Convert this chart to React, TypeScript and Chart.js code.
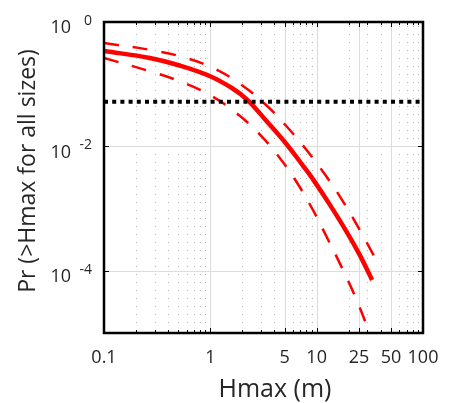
import React, { useEffect, useRef } from 'react';
import { Chart, registerables } from 'chart.js';

Chart.register(...registerables);

// Axis ticks
const xTickValues = [0.1, 1, 5, 10, 25, 50, 100];
const xMinorValues = [0.2, 0.3, 0.4, 0.5, 0.6, 0.7, 0.8, 0.9, 2, 3, 4, 6, 7, 8, 9, 20, 30, 40, 60, 70, 80, 90];
const yTickValues = [1, 1e-2, 1e-4];
const yTickExponents = ['0', '-2', '-4'];

// Central estimate (solid red)
const medianX = [0.1, 0.27, 0.5155, 0.985, 1.62, 2.24, 3.37, 5.19, 7.33, 9.14, 13.1, 18.9, 25.1, 33.2];
const medianY = [0.342, 0.2638, 0.1998, 0.1354, 0.0853, 0.0557, 0.0256, 0.01093, 0.00506, 0.003036, 0.001203, 4.395e-4, 1.869e-4, 7.14e-5];

// Upper bound (dashed red)
const upperX = [0.1, 0.282, 0.55, 1.0525, 1.882, 3.228, 5.28, 8.176, 12.3, 17.77, 25.66, 34.6];
const upperY = [0.4597, 0.3521, 0.2737, 0.1835, 0.1026, 0.0489, 0.0205, 0.008433, 0.003307, 0.001286, 4.413e-4, 1.736e-4];

// Lower bound (dashed red)
const lowerX = [0.1, 0.27, 0.515, 0.944, 1.69, 2.84, 4.46, 6.43, 9.27, 12.8, 17.4, 23.6, 30.0, 31.4];
const lowerY = [0.2638, 0.1612, 0.1117, 0.0701, 0.03627, 0.0163, 0.006653, 0.002727, 9.356e-4, 3.162e-4, 1.093e-4, 3.495e-5, 1.239e-5, 1.0e-5];

// Threshold (dotted black)
const thresholdX = [0.1, 100];
const thresholdY = [0.052, 0.052];

const xTitle = 'Hmax (m)';
const yTitle = 'Pr (>Hmax for all sizes)';

const FONT = '"Open Sans", "Noto Sans", sans-serif';
const TEXT = '#262626';

const toPts = (xs: number[], ys: number[]) => xs.map((x, i) => ({ x, y: ys[i] }));

const decor = {
  id: 'decor',
  beforeDatasetsDraw(chart: any) {
    const { ctx, chartArea: a, scales } = chart;
    const x = scales.x;
    const y = scales.y;
    ctx.save();
    ctx.lineWidth = 1;
    ctx.strokeStyle = '#b5b5b5';
    ctx.setLineDash([1, 7]);
    for (const v of xMinorValues) {
      const px = Math.round(x.getPixelForValue(v)) + 0.5;
      ctx.beginPath();
      ctx.moveTo(px, a.top + 4);
      ctx.lineTo(px, a.bottom);
      ctx.stroke();
    }
    ctx.setLineDash([]);
    ctx.strokeStyle = '#dcdcdc';
    for (const v of xTickValues) {
      const px = Math.round(x.getPixelForValue(v)) + 0.5;
      ctx.beginPath();
      ctx.moveTo(px, a.top);
      ctx.lineTo(px, a.bottom);
      ctx.stroke();
    }
    for (const v of yTickValues) {
      const py = Math.round(y.getPixelForValue(v)) + 0.5;
      ctx.beginPath();
      ctx.moveTo(a.left, py);
      ctx.lineTo(a.right, py);
      ctx.stroke();
    }
    ctx.restore();
  },
  afterDatasetsDraw(chart: any) {
    const { ctx, chartArea: a, scales } = chart;
    const x = scales.x;
    const y = scales.y;
    ctx.save();
    ctx.strokeStyle = '#000';
    ctx.lineWidth = 1;
    const tick = (v: number, len: number) => {
      const px = Math.round(x.getPixelForValue(v)) + 0.5;
      ctx.beginPath();
      ctx.moveTo(px, a.bottom);
      ctx.lineTo(px, a.bottom - len);
      ctx.moveTo(px, a.top);
      ctx.lineTo(px, a.top + len);
      ctx.stroke();
    };
    xMinorValues.forEach((v) => tick(v, 3));
    xTickValues.forEach((v) => tick(v, 5));
    for (const v of yTickValues) {
      const py = Math.round(y.getPixelForValue(v)) + 0.5;
      ctx.beginPath();
      ctx.moveTo(a.left, py);
      ctx.lineTo(a.left + 5, py);
      ctx.moveTo(a.right, py);
      ctx.lineTo(a.right - 5, py);
      ctx.stroke();
    }
    ctx.lineWidth = 2.5;
    ctx.strokeRect(a.left, a.top, a.right - a.left, a.bottom - a.top);
    ctx.restore();
  },
  afterDraw(chart: any) {
    const { ctx, scales } = chart;
    const y = scales.y;
    ctx.save();
    ctx.fillStyle = TEXT;
    ctx.textAlign = 'right';
    ctx.textBaseline = 'middle';
    yTickValues.forEach((v, i) => {
      const p = y.getPixelForValue(v);
      ctx.font = `14px ${FONT}`;
      ctx.fillText(yTickExponents[i], 92, p - 1);
      ctx.font = `18px ${FONT}`;
      ctx.fillText('10', 71, p + 6);
    });
    ctx.font = `25px ${FONT}`;
    ctx.textAlign = 'center';
    ctx.textBaseline = 'alphabetic';
    ctx.fillText(xTitle, 275, 397);
    ctx.save();
    ctx.translate(35, 171);
    ctx.rotate(-Math.PI / 2);
    ctx.font = `23px ${FONT}`;
    ctx.fillText(yTitle, 0, 0);
    ctx.restore();
    ctx.restore();
  },
};

export default function App() {
  const ref = useRef<HTMLCanvasElement>(null);
  useEffect(() => {
    if (!ref.current) return;
    const chart = new Chart(ref.current, {
      type: 'line',
      data: {
        datasets: [
          {
            data: toPts(thresholdX, thresholdY),
            borderColor: '#000000',
            borderWidth: 4,
            borderDash: [4, 4.2],
            pointRadius: 0,
          },
          {
            data: toPts(medianX, medianY),
            borderColor: '#ff0000',
            borderWidth: 4.5,
            pointRadius: 0,
            tension: 0.4,
          },
          {
            data: toPts(upperX, upperY),
            borderColor: '#ff0000',
            borderWidth: 2.5,
            borderDash: [15, 14],
            pointRadius: 0,
            tension: 0.4,
          },
          {
            data: toPts(lowerX, lowerY),
            borderColor: '#ff0000',
            borderWidth: 2.5,
            borderDash: [15, 14],
            pointRadius: 0,
            tension: 0.4,
          },
        ],
      },
      options: {
        responsive: false,
        maintainAspectRatio: false,
        animation: false,
        devicePixelRatio: 1,
        layout: { padding: { top: 22, right: 37, left: 0, bottom: 0 } },
        plugins: { legend: { display: false }, tooltip: { enabled: false } },
        scales: {
          x: {
            type: 'logarithmic',
            min: 0.1,
            max: 100,
            afterBuildTicks: (s: any) => {
              s.ticks = xTickValues.map((v) => ({ value: v }));
            },
            afterFit: (s: any) => {
              s.height = 70;
            },
            ticks: {
              autoSkip: false,
              maxRotation: 0,
              minRotation: 0,
              padding: 14,
              color: TEXT,
              font: { family: FONT, size: 18 },
              callback: (v: any) => String(v),
            },
            grid: { display: false, drawTicks: false },
            border: { display: false },
          },
          y: {
            type: 'logarithmic',
            min: 1e-5,
            max: 1,
            afterFit: (s: any) => {
              s.width = 104;
            },
            ticks: { display: false },
            grid: { display: false, drawTicks: false },
            border: { display: false },
          },
        },
      },
      plugins: [decor],
    } as any);
    return () => chart.destroy();
  }, []);
  return (
    <div style={{ position: 'absolute', left: 0, top: 0, width: 460, height: 403, background: '#fff' }}>
      <canvas ref={ref} width={460} height={403} style={{ display: 'block', width: 460, height: 403 }} />
    </div>
  );
}
